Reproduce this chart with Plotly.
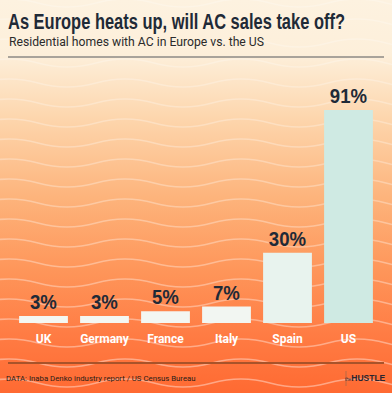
import base64
import json
import plotly.graph_objects as go

# ---- data ----
countries = ["UK", "Germany", "France", "Italy", "Spain", "US"]
ac_share = [3, 3, 5, 7, 30, 91]
value_labels = [f"{v}%" for v in ac_share]

title_text = "As Europe heats up, will AC sales take off?"
subtitle_text = "Residential homes with AC in Europe vs. the US"
source_text = "DATA: Inaba Denko industry report / US Census Bureau"

# ---- geometry (pixels) ----
W, H = 392, 393
ML, MR, MT, MB = 13, 13, 89, 70
PW, PH = W - ML - MR, H - MT - MB


def px_x(px):
    return (px - ML) / PW


def px_y(py):
    return (H - MB - py) / PH


# ---- background SVG (gradient + waves) ----
def wave_path(y, amp=4.0, period=116.0, phase=-20.0):
    q = period / 4.0
    x = phase
    d = f"M{x:.1f},{y:.1f} Q{x + q:.1f},{y - 2 * amp:.1f} {x + 2 * q:.1f},{y:.1f}"
    x += 2 * q
    while x < W + period:
        x += 2 * q
        d += f" T{x:.1f},{y:.1f}"
    return d


paths = []
y = 3.0
while y < H + 10:
    op = 0.22 + 0.18 * min(1.0, y / H)
    paths.append(
        f'<path d="{wave_path(y)}" fill="none" stroke="#ffffff" '
        f'stroke-opacity="{op:.2f}" stroke-width="1.6"/>'
    )
    y += 20.0

svg = f'''<svg xmlns="http://www.w3.org/2000/svg" width="{W}" height="{H}" viewBox="0 0 {W} {H}">
<defs><linearGradient id="g" x1="0" y1="0" x2="0" y2="1">
<stop offset="0" stop-color="#fdf2e0"/>
<stop offset="0.14" stop-color="#fdefda"/>
<stop offset="0.30" stop-color="#fdd6ad"/>
<stop offset="0.50" stop-color="#fdb47c"/>
<stop offset="0.68" stop-color="#fe975b"/>
<stop offset="0.85" stop-color="#ff7c44"/>
<stop offset="1" stop-color="#ff6a32"/>
</linearGradient></defs>
<rect width="{W}" height="{H}" fill="url(#g)"/>
{''.join(paths)}
</svg>'''
bg_uri = "data:image/svg+xml;base64," + base64.b64encode(svg.encode()).decode()


# ---- bar colours (lighter for short bars) ----
def mix(c1, c2, t):
    a = [int(c1[i:i + 2], 16) for i in (1, 3, 5)]
    b = [int(c2[i:i + 2], 16) for i in (1, 3, 5)]
    return "#" + "".join(f"{round(a[i] + (b[i] - a[i]) * t):02x}" for i in range(3))


vmax = max(ac_share)
bar_colors = [mix("#f5f7f3", "#cfeae3", v / vmax) for v in ac_share]

BOLD = "Liberation Sans, Arial, sans-serif"
DARK = "#1f2a37"
LOGO = "<span style='font-size:4.5px'>the</span><b>HUSTLE</b>"

fig = go.Figure(
    go.Bar(
        x=countries,
        y=ac_share,
        text=value_labels,
        textposition="outside",
        textfont=dict(family=BOLD, size=20, color=DARK, weight="bold"),
        marker=dict(color=bar_colors, line=dict(width=0)),
        cliponaxis=False,
        hoverinfo="skip",
    )
)

fig.update_layout(
    width=W,
    height=H,
    margin=dict(l=ML, r=MR, t=MT, b=MB, pad=0),
    paper_bgcolor="#fdb47c",
    plot_bgcolor="rgba(0,0,0,0)",
    bargap=0.2,
    showlegend=False,
    title=dict(
        text=title_text,
        xref="container", yref="container",
        x=8 / W, y=1 - 22 / H,
        xanchor="left", yanchor="middle",
        font=dict(family=BOLD, size=18, color=DARK, weight="bold"),
    ),
    images=[
        dict(
            source=bg_uri,
            xref="paper",
            yref="paper",
            x=px_x(0),
            y=px_y(0),
            sizex=W / PW,
            sizey=H / PH,
            xanchor="left",
            yanchor="top",
            sizing="stretch",
            layer="below",
        )
    ],
    xaxis=dict(
        showgrid=False,
        zeroline=False,
        showline=False,
        ticks="",
        ticklabelstandoff=7,
        tickfont=dict(family="Roboto, sans-serif", size=12, color="#ffffff", weight="bold"),
    ),
    yaxis=dict(range=[0, 100], visible=False, showgrid=False, zeroline=False),
    shapes=[
        dict(type="line", xref="paper", yref="paper",
             x0=px_x(8), x1=px_x(384), y0=px_y(57), y1=px_y(57),
             line=dict(color="#8c8a86", width=1.5)),
        dict(type="line", xref="paper", yref="paper",
             x0=px_x(8), x1=px_x(384), y0=px_y(363), y1=px_y(363),
             line=dict(color="#a9532a", width=2)),
        dict(type="line", xref="paper", yref="paper",
             x0=px_x(346), x1=px_x(346), y0=px_y(371), y1=px_y(386),
             line=dict(color="#b86a45", width=1)),
    ],
    annotations=[
        dict(text=subtitle_text, xref="paper", yref="paper", x=px_x(7), y=px_y(42),
             xanchor="left", yanchor="middle", showarrow=False,
             font=dict(family="Roboto, sans-serif", size=12.2, color="#2b2b2b")),
        dict(text=source_text, xref="paper", yref="paper", x=px_x(4), y=px_y(378),
             xanchor="left", yanchor="middle", showarrow=False,
             font=dict(family="Roboto, sans-serif", size=7.8, color="#2a1d17")),
        dict(text=LOGO, xref="paper", yref="paper",
             x=px_x(388), y=px_y(378), xanchor="right", yanchor="middle", showarrow=False,
             font=dict(family=BOLD, size=8.5, color="#2a2530")),
    ],
)

# condense the bold headline / value labels horizontally (mimics a tall condensed face)
targets = json.dumps({title_text: [337, 1.2]})
post = (
    "document.body.style.margin='0';document.body.style.overflow='hidden';"
    "var gd=document.getElementById('{plot_id}');var tg=" + targets + ";"
    "gd.querySelectorAll('text').forEach(function(t){"
    "var s=t.textContent;"
    "if(tg[s]){var b=t.getBBox();var cy=b.y+b.height/2;"
    "t.setAttribute('textLength',tg[s][0]);t.setAttribute('lengthAdjust','spacingAndGlyphs');"
    "var tr=t.getAttribute('transform')||'';"
    "t.setAttribute('transform',tr+' translate(0,'+cy+') scale(1,'+tg[s][1]+') translate(0,'+(-cy)+')');}"
    "else if(t.classList.contains('bartext')){var w=t.getComputedTextLength();"
    "t.setAttribute('textLength',(w*0.93).toFixed(1));t.setAttribute('lengthAdjust','spacingAndGlyphs');}"
    "});"
)

fig.write_html("out.html", config={"displayModeBar": False}, post_script=post)
